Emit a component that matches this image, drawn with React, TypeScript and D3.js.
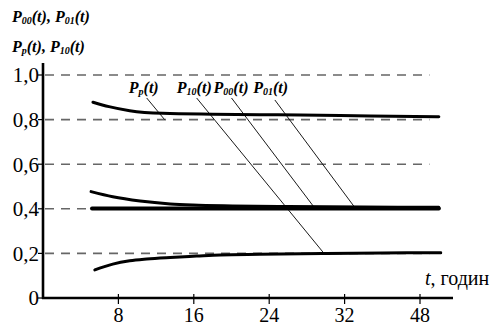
import React from "react";
import * as d3 from "d3";

const W = 496;
const H = 327;

// tick values (position on the axis) and their printed labels
const xTickValues = [8, 16, 24, 32, 40];
const xTickLabels = ["8", "16", "24", "32", "48"];
const yTickValues = [0, 0.2, 0.4, 0.6, 0.8, 1.0];
const yTickLabels = ["0", "0,2", "0,4", "0,6", "0,8", "1,0"];
const gridValues = [0.2, 0.4, 0.6, 0.8, 1.0];

// series (t, value)
const ppT = [5.3, 7, 9.2, 12.7, 18, 23, 27.3, 34.7, 42];
const ppV = [0.878, 0.858, 0.84, 0.828, 0.824, 0.822, 0.821, 0.816, 0.813];

const p01T = [5.1, 7.4, 10.3, 13.5, 15.9, 20.1, 26, 34, 42];
const p01V = [0.477, 0.454, 0.435, 0.422, 0.417, 0.413, 0.41, 0.408, 0.407];

const p00T = [5.2, 42];
const p00V = [0.401, 0.401];

const p10T = [5.5, 7.4, 9.2, 11, 13.5, 16.3, 18.8, 23, 30, 36, 42.2];
const p10V = [0.126, 0.152, 0.167, 0.175, 0.182, 0.188, 0.193, 0.196, 0.2, 0.202, 0.203];

// annotations: label subscript, label anchor (t,v), leader from (t,v) to (t,v)
const annSub = ["p", "10", "00", "01"];
const annLabelT = [9.1, 14.2, 18.1, 22.3];
const annLabelV = [0.919, 0.919, 0.919, 0.919];
const annFromT = [11.0, 16.3, 20.0, 24.6];
const annFromV = [0.897, 0.897, 0.897, 0.888];
const annToT = [12.9, 29.7, 28.8, 33.1];
const annToV = [0.8, 0.206, 0.405, 0.405];

export default function App() {
  const x = d3.scaleLinear().domain([0, 40]).range([43, 420]);
  const y = d3.scaleLinear().domain([0, 1]).range([298, 75]);

  const line = d3
    .line<[number, number]>()
    .x((d) => x(d[0]))
    .y((d) => y(d[1]))
    .curve(d3.curveMonotoneX);

  const zip = (a: number[], b: number[]) => a.map((t, i) => [t, b[i]] as [number, number]);

  const series = [
    { d: zip(ppT, ppV), w: 3 },
    { d: zip(p01T, p01V), w: 3 },
    { d: zip(p00T, p00V), w: 4 },
    { d: zip(p10T, p10V), w: 3 },
  ];

  const Plabel = (sub: string, px: number, py: number, fs: number, sfs: number) => (
    <text x={px} y={py} fontWeight="bold" fontStyle="italic" fontSize={fs} fill="#000">
      <tspan>P</tspan>
      <tspan fontSize={sfs} dy={2}>{sub}</tspan>
      <tspan dy={-2}>(t)</tspan>
    </text>
  );

  return (
    <svg
      width={W}
      height={H}
      style={{ position: "absolute", left: 0, top: 0, background: "#fff", fontFamily: "'Liberation Serif', serif" }}
    >
      {/* grid */}
      {gridValues.map((v) => (
        <line key={v} x1={45} x2={x(41)} y1={y(v)} y2={y(v)} stroke="#666" strokeWidth={1.6} strokeDasharray="9,7" />
      ))}

      {/* axes */}
      <line x1={43} x2={43} y1={63} y2={y(0) + 1} stroke="#000" strokeWidth={2.6} />
      <line x1={42} x2={453} y1={y(0)} y2={y(0)} stroke="#000" strokeWidth={2.6} />

      {yTickValues.map((v, i) => (
        <g key={"y" + v}>
          <line x1={38} x2={43} y1={y(v)} y2={y(v)} stroke="#000" strokeWidth={1.2} />
          <text x={39} y={y(v)} dy="0.35em" textAnchor="end" fontSize={21} fill="#000">
            {yTickLabels[i]}
          </text>
        </g>
      ))}

      {xTickValues.map((t, i) => (
        <g key={"x" + t}>
          <line x1={x(t)} x2={x(t)} y1={y(0) - 4} y2={y(0) + 6} stroke="#000" strokeWidth={1.2} />
          <text x={x(t)} y={322} textAnchor="middle" fontSize={20} fill="#000">
            {xTickLabels[i]}
          </text>
        </g>
      ))}

      <text x={425} y={285} fontSize={20} fill="#000">
        <tspan fontStyle="italic">t</tspan>
        <tspan>, годин</tspan>
      </text>

      {/* y-axis title */}
      <text x={12} y={22} fontWeight="bold" fontStyle="italic" fontSize={16} fill="#000">
        <tspan>P</tspan>
        <tspan fontSize={10} dy={2}>00</tspan>
        <tspan dy={-2}>(t), P</tspan>
        <tspan fontSize={10} dy={2}>01</tspan>
        <tspan dy={-2}>(t)</tspan>
      </text>
      <text x={12} y={52} fontWeight="bold" fontStyle="italic" fontSize={16} fill="#000">
        <tspan>P</tspan>
        <tspan fontSize={10} dy={2}>p</tspan>
        <tspan dy={-2}>(t), P</tspan>
        <tspan fontSize={10} dy={2}>10</tspan>
        <tspan dy={-2}>(t)</tspan>
      </text>

      {/* curves */}
      {series.map((s, i) => (
        <path key={i} d={line(s.d) || ""} fill="none" stroke="#000" strokeWidth={s.w} strokeLinecap="round" />
      ))}

      {/* annotations */}
      {annSub.map((sub, i) => (
        <g key={"a" + i}>
          <line
            x1={x(annFromT[i])}
            y1={y(annFromV[i])}
            x2={x(annToT[i])}
            y2={y(annToV[i])}
            stroke="#000"
            strokeWidth={0.9}
          />
          {Plabel(sub, x(annLabelT[i]), y(annLabelV[i]), 16, 10)}
        </g>
      ))}
    </svg>
  );
}
